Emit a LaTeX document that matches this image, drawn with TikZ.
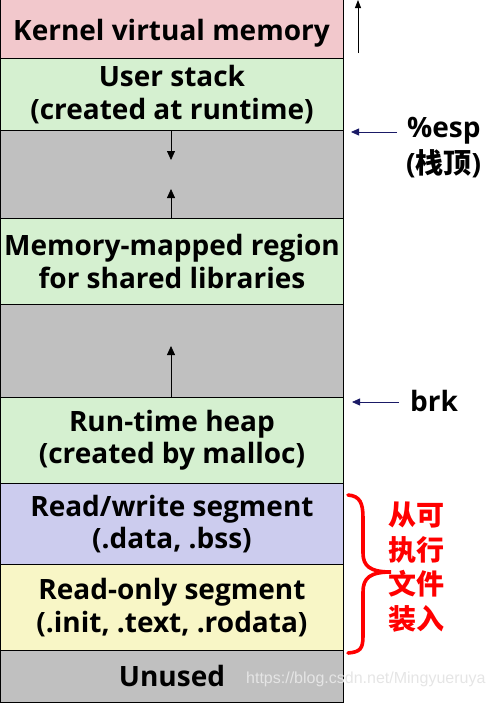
\documentclass[tikz,border=0pt]{standalone}
\usepackage{fontspec}
\setmainfont{Open Sans}
\newfontfamily\cjkfont{Noto Sans CJK SC}
\newfontfamily\wmfont{Liberation Sans}
\usetikzlibrary{arrows.meta}
\definecolor{kpink}{HTML}{F2C8CC}
\definecolor{sgreen}{HTML}{D5F0D0}
\definecolor{ugray}{HTML}{C0C0C0}
\definecolor{rwlav}{HTML}{CCCCEE}
\definecolor{roylw}{HTML}{F8F6C6}
\definecolor{navyarrow}{HTML}{1A1A66}
\begin{document}
\begin{tikzpicture}[x=1pt,y=-1pt,
  segfont/.style={font=\fontsize{28}{32.5}\selectfont\bfseries},
  seg/.style={draw=black,line width=0.9pt,minimum width=343pt,inner sep=0pt,
    anchor=north west,align=center,segfont},
  growarrow/.style={line width=0.8pt,-{Triangle[length=9pt,width=8pt]}},
  ptrarrow/.style={draw=navyarrow,line width=0.8pt,-{Triangle[length=8pt,width=7pt]}},
  sidelabel/.style={font=\fontsize{28}{31}\selectfont\bfseries,anchor=west,inner sep=0pt,align=left}
]
\useasboundingbox (0,0) rectangle (493,704);
\node[seg,fill=kpink,minimum height=60pt] (kern) at (0,-2) {};
\node[segfont,inner sep=0pt] (kernlabel) at (171.5,33) {Kernel virtual memory};
\node[seg,fill=sgreen,minimum height=72pt] (ustack) at (0,58) {User stack\\(created at runtime)};
\node[seg,fill=ugray,minimum height=88pt] (gap1) at (0,130) {};
\node[seg,fill=sgreen,minimum height=86pt] (mmap) at (0,218) {Memory-mapped region\\for shared libraries};
\node[seg,fill=ugray,minimum height=93pt] (gap2) at (0,304) {};
\node[seg,fill=sgreen,minimum height=86pt] (heap) at (0,397) {Run-time heap\\(created by malloc)};
\node[seg,fill=rwlav,minimum height=81pt] (rw) at (0,483) {Read/write segment\\(.data, .bss)};
\node[seg,fill=roylw,minimum height=86pt] (ro) at (0,564) {Read-only segment\\(.init, .text, .rodata)};
\node[seg,fill=ugray,minimum height=52pt] (unused) at (0,650) {Unused};

% growth arrows
\coordinate (s1) at (171,130);
\coordinate (t1) at (171,160);
\coordinate (s2) at (171,218);
\coordinate (t2) at (171,189);
\coordinate (s3) at (171,397);
\coordinate (t3) at (171,346);
\draw[growarrow] (s1) -- (t1);
\draw[growarrow] (s2) -- (t2);
\draw[growarrow] (s3) -- (t3);
\coordinate (ka) at (358,53);
\coordinate (kb) at (358,0);
\draw[line width=0.8pt,-{Triangle[length=8pt,width=6pt]}] (ka) -- (kb);

% pointers
\node[sidelabel] (esp) at (407,131) {\%esp};
\node[font=\fontsize{28}{30}\selectfont\bfseries,anchor=west,inner sep=0pt] (espzh) at (406,164) {(\cjkfont\bfseries 栈顶\normalfont\bfseries)};
\coordinate (espa) at (351,132);
\draw[ptrarrow] (esp.west) ++(-10,1) -- (espa);
\node[sidelabel] (brk) at (410,401) {brk};
\coordinate (brka) at (352,402);
\draw[ptrarrow] (brk.west) ++(-11,1) -- (brka);

% brace
\coordinate (bt) at (348,495);
\coordinate (bm) at (391,572);
\coordinate (bb) at (348,653);
\draw[red,line width=3.6pt,line cap=round]
  (bt) .. controls (360,496) and (363,503) .. (363,518) -- (363,553)
  .. controls (363,566) and (370,572) .. (bm)
  .. controls (370,572) and (363,578) .. (363,592) -- (363,636)
  .. controls (363,649) and (360,652) .. (bb);
\node[text=red,align=center,inner sep=0pt,font=\cjkfont\bfseries\fontsize{28}{34.5}\selectfont] (load) at (416,567) {从可\\执行\\文件\\装入};

% watermark
\node[text=white!80!gray,font=\wmfont\fontsize{16}{18}\selectfont,anchor=west,inner sep=0pt] (wm) at (246,679) {https://blog.csdn.net/Mingyueruya};
\end{tikzpicture}
\end{document}
